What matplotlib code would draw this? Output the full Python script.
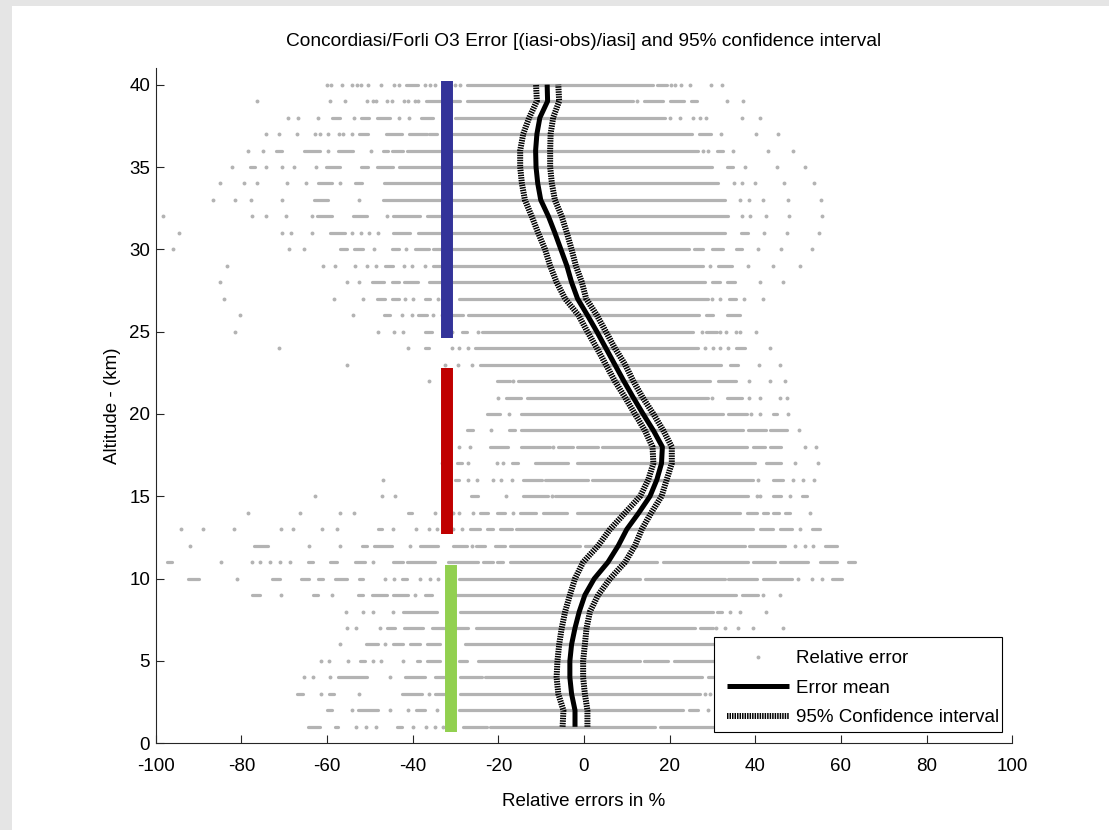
import matplotlib
matplotlib.use('Agg')
import matplotlib.pyplot as plt
from matplotlib.collections import LineCollection
from matplotlib.patches import Rectangle

plt.rcParams['font.family'] = ['Liberation Sans', 'DejaVu Sans']
plt.rcParams['axes.unicode_minus'] = False

# mean error profile and 95% confidence bounds (altitude in km, error in %)
altitude = list(range(1, 41))
error_mean = [-2.1, -2.1, -2.9, -3.3, -3.3, -2.9, -2.1, -1.1, 0.2, 2.4,
              5.6, 8.0, 10.0, 12.8, 15.4, 17.0, 18.1, 18.3, 16.2, 13.8,
              11.5, 9.3, 7.2, 5.1, 3.0, 0.8, -1.5, -2.9, -4.0, -5.4,
              -6.8, -8.3, -10.1, -10.8, -11.2, -11.3, -11.0, -10.3, -8.5, -8.6]
ci_low = [-5.0, -4.8, -6.0, -6.4, -6.2, -5.8, -5.2, -4.4, -3.3, -2.1,
          -0.2, 3.3, 6.1, 9.6, 13.1, 15.0, 16.2, 16.0, 14.2, 11.9,
          9.6, 7.2, 5.1, 3.0, 0.8, -1.3, -4.4, -6.4, -7.9, -9.1,
          -10.7, -12.2, -13.8, -14.5, -14.9, -14.9, -14.2, -12.8, -11.0, -11.2]
ci_high = [0.8, 0.8, 0.2, -0.2, -0.2, 0.2, 0.6, 1.4, 3.3, 6.1,
           9.6, 11.9, 13.5, 15.7, 18.1, 19.3, 20.5, 20.5, 18.5, 16.2,
           13.7, 11.5, 9.6, 7.2, 5.1, 3.0, 0.5, -0.5, -1.9, -2.9,
           -4.0, -5.2, -6.8, -7.5, -7.9, -7.9, -7.8, -7.2, -5.8, -6.0]

# individual relative errors: isolated points and dense runs (start, end) per level
error_dots = {
    40: [-60.1, -59.1, -56.4, -54.1, -53.1, -52.1, -50.4, -47.5, -44.4, -43.3, -37.1, -36.0, -34.8, -30.1, -28.9, 20.2, 21.2, 22.6, 24.7, 29.6, 32.3],
    39: [-76.3, -59.3, -55.8, -50.7, -49.2, -48.6, -45.9, -44.9, -42.0, -41.0, -39.5, -38.7, 12.3, 33.5, 37.2],
    38: [-69.0, -66.7, -62.0, -53.7, -43.1, -40.9, 20.1, 22.4, 25.5, 27.0, 28.6, 36.8, 41.2],
    37: [-74.3, -71.2, -66.9, -62.8, -61.6, -59.7, -57.1, -56.2, -54.2, 31.9, 40.2, 45.4],
    36: [-78.5, -74.9, -59.7, -49.8, 27.9, 29.0, 34.9, 42.9, 48.7],
    35: [-82.3, -74.2, -70.5, -67.7, -62.6, 37.6, 45.0, 51.6],
    34: [-85.0, -79.5, -76.4, -69.3, -65.0, -57.0, 35.0, 36.9, 39.9, 46.8, 53.7],
    33: [-86.7, -81.5, -77.8, -70.6, -52.5, 36.4, 38.5, 41.7, 47.7, 55.3],
    32: [-98.4, -77.4, -74.2, -69.6, -63.4, -46.1, 37.0, 38.8, 42.4, 47.9, 55.6],
    31: [-94.5, -70.4, -68.4, -63.6, -54.2, -52.0, -50.1, -48.2, 42.0, 47.3, 54.8],
    30: [-96.0, -68.8, -65.3, -49.0, -41.6, 40.7, 46.1, 53.2],
    29: [-83.4, -61.0, -58.1, -53.5, -50.7, -48.6, -42.0, -40.2, -37.1, 29.4, 38.4, 44.2, 50.4],
    28: [-85.0, -55.4, -52.5, 41.2, 46.5],
    27: [-84.0, -58.4, -51.7, -41.9, -40.0, -34.0, 30.0, 31.8, 37.4, 41.7],
    26: [-80.3, -54.0, -42.6, -40.2, -35.2, -33.2],
    25: [-81.5, -48.0, -44.4, -42.2, -30.9, -24.7, 27.5, 31.8, 33.2, 35.6, 36.4, 40.1],
    24: [-71.2, -41.2, -30.9, -29.3, -27.0, 28.2, 30.2, 31.8, 33.7, 43.4],
    23: [-55.3, -32.5, -29.5, -26.2, 40.9, 45.8],
    22: [-36.1, -16.5, 38.6, 43.4, 46.9],
    21: [-20.0, 30.0, 38.6, 41.0, 45.8, 47.3],
    20: [-17.4, 38.9, 41.1, 47.7],
    19: [-21.7, 50.3],
    18: [-29.3, -26.6, -7.2, 51.6, 54.2],
    17: [-33.2, -27.0, -20.4, -18.8, 49.3, 54.7],
    16: [-47.0, -27.0, -24.9, -21.2, -19.4, -16.7, 40.7, 48.9, 51.2, 53.7],
    15: [-62.8, -47.2, -44.1, -18.1, -7.5, 40.3, 41.0, 48.1],
    14: [-78.4, -66.3, -57.0, -53.7, -34.8, -30.5, -29.2, -25.8, -16.5, 52.8],
    13: [-94.1, -88.9, -81.7, -70.8, -68.0, -61.2, -57.6, -44.7, -39.3, -36.3, -34.4, -30.5, -28.6, 50.4],
    12: [-92.0, -64.1, -57.0, -40.6, -26.2, 49.3, 51.6, 53.5],
    11: [-84.8, -77.6, -75.6, -73.2, -71.0, -68.6, -49.2],
    10: [-81.1, -46.5, -44.4, -38.3, -35.9, -34.0, 50.0, 53.2, 55.5],
    9: [-70.8, -58.9, -39.5, 41.9, 45.8],
    8: [-55.6, -51.7, -49.2, -44.7, 34.1, 36.4, 42.5],
    7: [-55.3, -53.2, -47.6, 30.8, 32.9, 36.0, 39.4, 46.5],
    6: [-57.0, -46.5],
    5: [-61.5, -59.5, -55.0, -49.2, -47.5, -42.3],
    4: [-65.4, -63.2, -59.3, -45.4],
    3: [-61.5, -52.5, -36.3, 28.2, 29.4],
    2: [-54.2, -45.4, -41.0, -34.4, 29.0],
    1: [-53.2, -50.9, -48.6, -40.0, -36.9, -34.9, -33.0],
}
error_runs = {
    40: [(-41.6, -38.7), (-27.4, 16.2), (17.0, 19.3)],
    39: [(-36.9, -33.2), (-30.5, -28.9), (-27.4, 11.5), (13.9, 18.5), (20.1, 23.3), (24.9, 26.3)],
    38: [(-58.9, -57.0), (-52.1, -50.1), (-48.4, -45.3), (-38.1, -35.2), (-30.1, 18.9)],
    37: [(-52.5, -50.4), (-46.2, -42.6), (-40.8, -36.7), (-36.3, -34.4), (-30.5, 25.1), (26.9, 29.6)],
    36: [(-71.9, -70.6), (-65.4, -61.6), (-57.4, -53.9), (-47.0, -45.7), (-44.9, -42.2), (-41.4, 26.7), (31.0, 32.5)],
    35: [(-78.1, -76.8), (-60.3, -56.9), (-52.1, -50.4), (-48.4, -44.5), (-43.3, 29.8), (33.3, 34.9)],
    34: [(-62.0, -58.9), (-53.5, -51.9), (-46.8, 31.4)],
    33: [(-63.0, -59.7), (-47.0, 32.9)],
    32: [(-62.3, -58.9), (-53.9, -50.7), (-44.5, -38.3), (-36.7, 33.7)],
    31: [(-59.3, -55.8), (-44.7, -40.6), (-38.7, 32.9), (36.6, 38.4)],
    30: [(-57.0, -55.4), (-53.6, -51.5), (-44.9, -43.3), (-39.5, -36.3), (-35.2, 24.4), (25.7, 27.9), (29.8, 32.5), (35.6, 36.8)],
    29: [(-46.5, -44.5), (-35.2, 27.9), (31.4, 34.5)],
    28: [(-49.6, -46.8), (-44.9, -43.1), (-42.0, -38.7), (-36.1, 28.2), (29.8, 31.8), (33.3, 35.3)],
    27: [(-48.4, -46.5), (-44.9, -43.3), (-37.1, -36.0), (-29.3, 29.0), (33.9, 35.5)],
    26: [(-46.8, -45.3), (-38.7, -36.7), (-32.1, -28.2), (-27.0, 26.9), (28.6, 30.2), (33.3, 36.4)],
    25: [(-37.1, -35.6), (-28.6, -27.4), (-23.7, 25.5), (28.6, 31.0)],
    24: [(-37.1, -36.3), (-25.4, 26.7), (35.6, 37.6)],
    23: [(-24.3, 32.1), (34.1, 36.0)],
    22: [(-20.4, -17.3), (-15.3, 29.4), (31.4, 35.6)],
    21: [(-18.1, -14.6), (-13.4, 29.0), (33.3, 36.8)],
    20: [(-22.7, -19.6), (-14.6, 32.5), (33.7, 38.0), (44.2, 45.0)],
    19: [(-27.4, -25.8), (-17.4, -16.1), (-14.6, 37.2), (38.4, 42.6), (43.4, 47.3)],
    18: [(-21.9, -17.7), (-14.6, -8.0), (-6.0, -2.5), (-1.7, 3.3), (4.1, 38.0), (39.5, 42.3), (43.4, 46.1)],
    17: [(-29.7, -28.6), (-16.9, -15.3), (-11.5, -3.7), (-1.7, 39.9), (42.6, 46.1)],
    16: [(-30.1, -29.3), (-14.2, -9.9), (-9.1, 1.0), (1.8, 39.5), (44.2, 46.5)],
    15: [(-26.5, -24.7), (-14.2, -8.3), (-6.8, 38.4), (44.2, 46.1), (50.8, 52.0)],
    14: [(-41.2, -40.2), (-24.3, -22.3), (-20.4, -18.4), (-14.9, -11.1), (-9.6, -4.0), (-1.7, 36.4), (38.0, 40.3), (41.7, 43.0), (44.2, 45.6), (46.9, 48.1)],
    13: [(-48.0, -47.2), (-26.6, -24.3), (-22.7, -21.2), (-19.6, -16.9), (-15.8, 39.5), (41.1, 44.2), (45.8, 48.5), (53.2, 55.1)],
    12: [(-77.0, -73.7), (-51.9, -50.7), (-49.0, -44.9), (-38.4, -34.0), (-30.5, -27.4), (-25.1, -23.1), (-20.8, -18.4), (-17.2, -0.9), (0.3, 37.6), (38.6, 46.9), (56.3, 59.0)],
    11: [(-97.4, -96.3), (-64.4, -63.2), (-59.3, -57.7), (-53.5, -51.2), (-44.5, -42.2), (-41.4, -34.8), (-31.7, -24.7), (-23.5, -21.2), (-20.4, -18.8), (-17.3, 17.0), (18.5, 38.4), (39.5, 44.6), (45.8, 52.4), (55.1, 59.0), (61.7, 63.3)],
    10: [(-92.4, -90.0), (-72.9, -71.0), (-66.1, -64.1), (-62.0, -61.0), (-58.1, -55.4), (-52.5, -51.5), (-42.6, -41.4), (-29.3, 13.1), (14.2, 32.9), (33.7, 40.3), (41.9, 48.5), (57.8, 60.2)],
    9: [(-77.6, -75.6), (-63.2, -62.0), (-52.7, -51.5), (-49.6, -46.1), (-44.5, -41.0), (-37.1, -35.6), (-32.0, 35.6), (36.8, 40.7)],
    8: [(-42.3, -34.4), (-29.0, 30.2), (31.0, 32.2)],
    7: [(-45.9, -44.1), (-42.0, -37.5), (-35.6, -27.0), (-25.1, 25.9), (27.1, 30.2)],
    6: [(-51.0, -48.0), (-44.7, -42.3), (-40.6, -38.3), (-36.7, -33.6), (-27.8, 32.0)],
    5: [(-52.3, -51.1), (-39.1, -38.3), (-36.7, -33.6), (-29.3, -27.4), (-24.7, 13.1), (13.9, 19.7), (20.9, 32.0)],
    4: [(-57.4, -50.7), (-41.8, -37.1), (-34.8, -32.8), (-28.9, -23.9), (-23.1, 27.5), (29.0, 32.0)],
    3: [(-67.1, -65.7), (-59.5, -58.4), (-42.6, -37.9), (-34.8, -32.8), (-29.0, 27.0)],
    2: [(-60.1, -58.9), (-52.7, -48.0), (-39.2, -37.1), (-29.3, 23.2), (24.4, 26.7)],
    1: [(-64.4, -61.6), (-58.1, -57.4), (-43.7, -42.6), (-28.2, -22.7), (-21.9, 16.6), (17.7, 30.2)],
}

# coloured altitude bands
band_x = [-31.9, -31.9, -31.1]
band_bottom = [24.6, 12.7, 0.7]
band_top = [40.2, 22.8, 10.8]
band_colors = ['#333399', '#c00000', '#92d050']

gray = '#b3b3b3'

fig = plt.figure(figsize=(11.09, 8.30), dpi=100, facecolor='#e5e5e5')
fig.add_artist(Rectangle((12 / 1109, 0), 1, 824 / 830, transform=fig.transFigure,
                         facecolor='white', edgecolor='none', zorder=-10))
ax = fig.add_axes([0.1404, 0.1045, 0.7724, 0.8133])
ax.set_facecolor('white')

# scatter of relative errors
segs = []
for h, runs in error_runs.items():
    for a, b in runs:
        segs.append([(a, h), (b, h)])
lc = LineCollection(segs, colors=gray, linewidths=2.3, capstyle='round', zorder=1)
ax.add_collection(lc)
dx, dy = [], []
for h, xs in error_dots.items():
    dx += xs
    dy += [h] * len(xs)
ax.plot(dx, dy, 'o', ms=2.8, mec='none', color=gray, zorder=1, label='Relative error')

# coloured bands
for x, lo, hi, c in zip(band_x, band_bottom, band_top, band_colors):
    ax.plot([x, x], [lo, hi], color=c, lw=8.6, solid_capstyle='butt', zorder=2)

# mean and confidence interval
ax.plot(error_mean, altitude, color='black', lw=3.6, solid_capstyle='butt', zorder=3, label='Error mean')
ci_style = dict(color='black', lw=4.3, ls=(0, (0.25, 0.17)), dash_capstyle='butt', zorder=3)
ax.plot(ci_low, altitude, label='95% Confidence interval', **ci_style)
ax.plot(ci_high, altitude, **ci_style)

ax.set_xlim(-100, 100)
ax.set_ylim(0, 41)
ax.set_xticks(range(-100, 101, 20))
ax.set_yticks(range(0, 41, 5))
for s in ['top', 'right']:
    ax.spines[s].set_visible(False)
for s in ['left', 'bottom']:
    ax.spines[s].set_linewidth(0.8)
    ax.spines[s].set_color('#262626')
ax.tick_params(direction='in', length=6, width=0.8, labelsize=13.5, color='#262626')
ax.tick_params(axis='x', pad=10.5)
ax.tick_params(axis='y', pad=4)

ax.set_xlabel('Relative errors in %', fontsize=13.5, labelpad=13)
ax.set_ylabel('Altitude - (km)', fontsize=13.5, labelpad=6)
fig.text(584 / 1109, 1 - 42 / 830, 'Concordiasi/Forli O3 Error [(iasi-obs)/iasi] and 95% confidence interval',
         ha='center', va='center', fontsize=13.8)

# legend with custom frame
ax.add_patch(Rectangle((714 / 1109, (830 - 732) / 830), 288 / 1109, 95 / 830, transform=fig.transFigure,
                       facecolor='white', edgecolor='black', lw=0.8, zorder=4.5, clip_on=False))
leg = ax.legend(loc='center left', bbox_to_anchor=(726.7 / 1109, (830 - 688) / 830),
                bbox_transform=fig.transFigure, frameon=False, fontsize=13.5,
                handlelength=3.3, handletextpad=0.39, labelspacing=0.66,
                borderpad=0, borderaxespad=0, numpoints=1)
leg.set_zorder(5)

fig.savefig('out.png', dpi=100, facecolor=fig.get_facecolor())
